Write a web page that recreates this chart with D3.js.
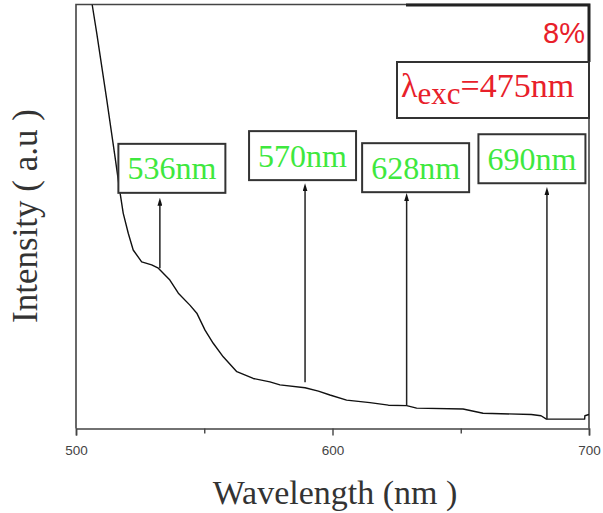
<!DOCTYPE html>
<html>
<head>
<meta charset="utf-8">
<script src="https://cdn.jsdelivr.net/npm/d3@7"></script>
<style>
  html, body { margin: 0; padding: 0; background: #fff; }
  svg { display: block; }
  .serif { font-family: "Liberation Serif", "DejaVu Serif", serif; }
  .sans { font-family: "Liberation Sans", "DejaVu Sans", sans-serif; }
</style>
</head>
<body>
<svg id="chart" width="603" height="513"></svg>
<script>
// Emission spectrum, excitation at 475 nm (sample 8%)
const wavelength = [506.3, 508.1, 512.0, 515.2, 517.2, 518.4, 520.4, 522.3, 525.6, 529.5,
  532.1, 536.6, 539.9, 544.4, 547.1, 550.3, 553.5, 557.4, 562.7, 569.1,
  575.6, 579.5, 589.3, 594.5, 599.0, 605.5, 614.6, 621.8, 628.9, 632.8,
  650.9, 658.7, 677.5, 681.3, 683.4, 698.3, 698.4, 700.0];
const intensity = [100.0, 93.2, 77.5, 64.1, 55.5, 50.8, 46.0, 42.1, 39.3, 38.6,
  37.8, 35.0, 31.9, 29.1, 27.2, 23.2, 20.1, 16.9, 13.4, 11.8,
  11.0, 10.3, 9.6, 8.8, 7.9, 6.7, 6.1, 5.5, 5.4, 4.8,
  4.6, 3.6, 3.3, 3.0, 2.2, 2.2, 3.0, 3.3];

// Peak annotations: label, arrow wavelength, arrow foot and tip intensity
const peakLabels = ["536nm", "570nm", "628nm", "690nm"];
const peakArrowWl = [532.7, 589.3, 628.9, 683.6];
const peakArrowFrom = [37.8, 10.9, 5.4, 2.2];
const peakArrowTo = [54.4, 57.8, 55.5, 56.9];

const xTicks = [500, 600, 700];
const xMinorTicks = [550, 650];
const sampleLabel = "8%";
const excLabel = { sub: "exc", value: "=475nm" };

const svg = d3.select("#chart");
const W = 603, H = 513;
const plotL = 76, plotR = 589, plotT = 4.5, plotB = 428.5;

const x = d3.scaleLinear().domain([500, 700]).range([plotL, plotR]);
const y = d3.scaleLinear().domain([0, 100]).range([plotB, plotT]);

svg.append("rect").attr("width", W).attr("height", H).attr("fill", "#fff");

const defs = svg.append("defs");
defs.append("clipPath").attr("id", "plotClip")
  .append("rect").attr("x", plotL).attr("y", plotT).attr("width", plotR - plotL).attr("height", plotB - plotT);

// arrowhead marker (narrow, pointing along the line)
defs.append("marker")
  .attr("id", "arrowHead")
  .attr("viewBox", "0 0 10 6")
  .attr("refX", 1).attr("refY", 3)
  .attr("markerWidth", 8).attr("markerHeight", 5)
  .attr("markerUnits", "userSpaceOnUse")
  .attr("orient", "auto")
  .append("path").attr("d", "M0,3 L10,0 L10,6 Z").attr("fill", "#111")
  .attr("transform", "rotate(180,5,3)");

// frame: left, top, right
const frameColor = "#444";
svg.append("path")
  .attr("d", `M${plotL},${plotB} V${plotT} H${plotR} V${plotB}`)
  .attr("fill", "none").attr("stroke", frameColor).attr("stroke-width", 1.6);

// bottom axis
const xAxis = d3.axisBottom(x).tickValues(xTicks).tickSize(7).tickPadding(10).tickFormat(d3.format("d"));
const gx = svg.append("g").attr("transform", `translate(0,${plotB})`).call(xAxis);
gx.attr("font-family", null).attr("font-size", null);
gx.select(".domain").attr("stroke", frameColor).attr("stroke-width", 1.6);
gx.selectAll(".tick line").attr("stroke", frameColor).attr("stroke-width", 1.4);
gx.selectAll(".tick text")
  .attr("class", "sans")
  .attr("font-size", 13.5).attr("fill", "#444");
const gxm = svg.append("g").attr("transform", `translate(0,${plotB})`)
  .call(d3.axisBottom(x).tickValues(xMinorTicks).tickSize(5).tickFormat(""));
gxm.select(".domain").remove();
gxm.selectAll(".tick line").attr("stroke", frameColor).attr("stroke-width", 1.4);

// spectrum
const pts = wavelength.map((w, i) => [w, intensity[i]]);
svg.append("path")
  .datum(pts)
  .attr("clip-path", "url(#plotClip)")
  .attr("fill", "none").attr("stroke", "#111").attr("stroke-width", 1.4)
  .attr("stroke-linejoin", "round")
  .attr("d", d3.line().x(d => x(d[0])).y(d => y(d[1])));

// legend boxes in upper right
svg.append("path")
  .attr("d", `M406,${plotT + 0.5} H${plotR} V62`)
  .attr("fill", "none").attr("stroke", "#222").attr("stroke-width", 3);
svg.append("text")
  .attr("class", "sans")
  .attr("x", 585).attr("y", 43).attr("text-anchor", "end")
  .attr("font-size", 29).attr("fill", "#e8202a")
  .text(sampleLabel);
svg.append("rect")
  .attr("x", 397).attr("y", 62).attr("width", plotR - 397).attr("height", 56)
  .attr("fill", "#fff").attr("stroke", "#333").attr("stroke-width", 2);
const exc = svg.append("text")
  .attr("class", "serif")
  .attr("x", 401).attr("y", 97)
  .attr("font-size", 34).attr("fill", "#e8202a");
exc.append("tspan").text("λ");
exc.append("tspan").attr("font-size", 31).attr("dy", 7).text(excLabel.sub);
exc.append("tspan").attr("dy", -7).text(excLabel.value);

// peak arrows and labels (label box centre offsets in px from the arrow tip)
const boxOffsets = [[12, -29.5], [-2.5, -27.8], [9, -25.5], [-15, -28.5]];
const boxW = 107, boxH = 49;
peakLabels.forEach((lab, i) => {
  const ax = x(peakArrowWl[i]);
  svg.append("line")
    .attr("x1", ax).attr("x2", ax)
    .attr("y1", y(peakArrowFrom[i])).attr("y2", y(peakArrowTo[i]) + 7)
    .attr("stroke", "#222").attr("stroke-width", 1.5)
    .attr("marker-end", "url(#arrowHead)");
  const cx = ax + boxOffsets[i][0];
  const cy = y(peakArrowTo[i]) + boxOffsets[i][1];
  svg.append("rect")
    .attr("x", cx - boxW / 2).attr("y", cy - boxH / 2)
    .attr("width", boxW).attr("height", boxH)
    .attr("fill", "#fff").attr("stroke", "#333").attr("stroke-width", 2);
  svg.append("text")
    .attr("class", "serif")
    .attr("x", cx).attr("y", cy + 11).attr("text-anchor", "middle")
    .attr("font-size", 32).attr("fill", "#3ee83e")
    .text(lab);
});

// axis titles
svg.append("text")
  .attr("class", "serif")
  .attr("x", 335).attr("y", 504).attr("text-anchor", "middle")
  .attr("font-size", 34).attr("fill", "#333")
  .text("Wavelength (nm )");
svg.append("text")
  .attr("class", "serif")
  .attr("transform", "translate(37,216) rotate(-90)")
  .attr("text-anchor", "middle")
  .attr("font-size", 35).attr("fill", "#333")
  .text("Intensity ( a.u )");
</script>
</body>
</html>
